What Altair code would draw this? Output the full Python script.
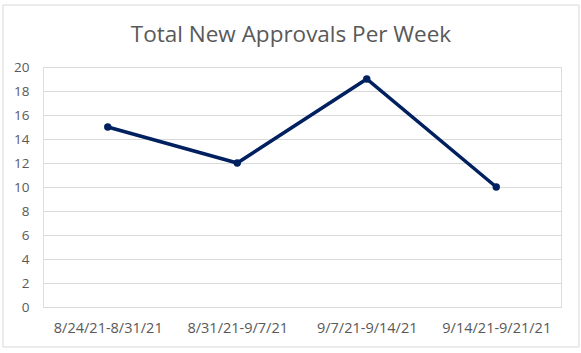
import altair as alt
import pandas as pd

weeks = ["8/24/21-8/31/21", "8/31/21-9/7/21", "9/7/21-9/14/21", "9/14/21-9/21/21"]
approvals = [15, 12, 19, 10]
y_ticks = list(range(0, 21, 2))

df = pd.DataFrame({"week": weeks, "approvals": approvals})

GRAY = "#595959"
NAVY = "#002060"

x_enc = alt.X("week:N", sort=weeks, title=None,
              scale=alt.Scale(paddingInner=0, paddingOuter=0.5),
              axis=alt.Axis(labelAngle=0, labelFontSize=14.5, labelColor=GRAY,
                            labelFont="Open Sans", labelPadding=14, ticks=False,
                            domain=False, grid=False))
y_enc = alt.Y("approvals:Q", title=None,
              scale=alt.Scale(domain=[0, 20], nice=False),
              axis=alt.Axis(values=y_ticks, labelFontSize=13.5, labelColor=GRAY,
                            labelFont="Open Sans", labelPadding=14, ticks=False,
                            labelOverlap=False, tickCount=11,
                            domain=False, gridColor="#d9d9d9", gridWidth=1))

border = alt.Chart(alt.Data(values=[{}])).mark_rect(
    fill="transparent", stroke="#d9d9d9", strokeWidth=1
).encode(x=alt.value(-40), x2=alt.value(536), y=alt.value(-62), y2=alt.value(280))

line = alt.Chart(df).mark_line(color=NAVY, strokeWidth=3.5).encode(x=x_enc, y=y_enc)
pts = alt.Chart(df).mark_point(filled=True, color=NAVY, size=55, opacity=1).encode(
    x=x_enc, y=y_enc)

chart = alt.layer(border, line, pts).properties(
    width=518, height=240,
    title=alt.TitleParams("Total New Approvals Per Week", font="Open Sans",
                          fontSize=22.5, fontWeight="normal", color=GRAY,
                          anchor="middle", baseline="alphabetic", offset=-60, dx=-11),
    autosize=alt.AutoSizeParams(type="none"),
    padding={"left": 43, "top": 67, "right": 20, "bottom": 46},
).configure_view(stroke=None).configure(background="white")

chart.save("out.html", embed_options={"renderer": "svg", "actions": False})
